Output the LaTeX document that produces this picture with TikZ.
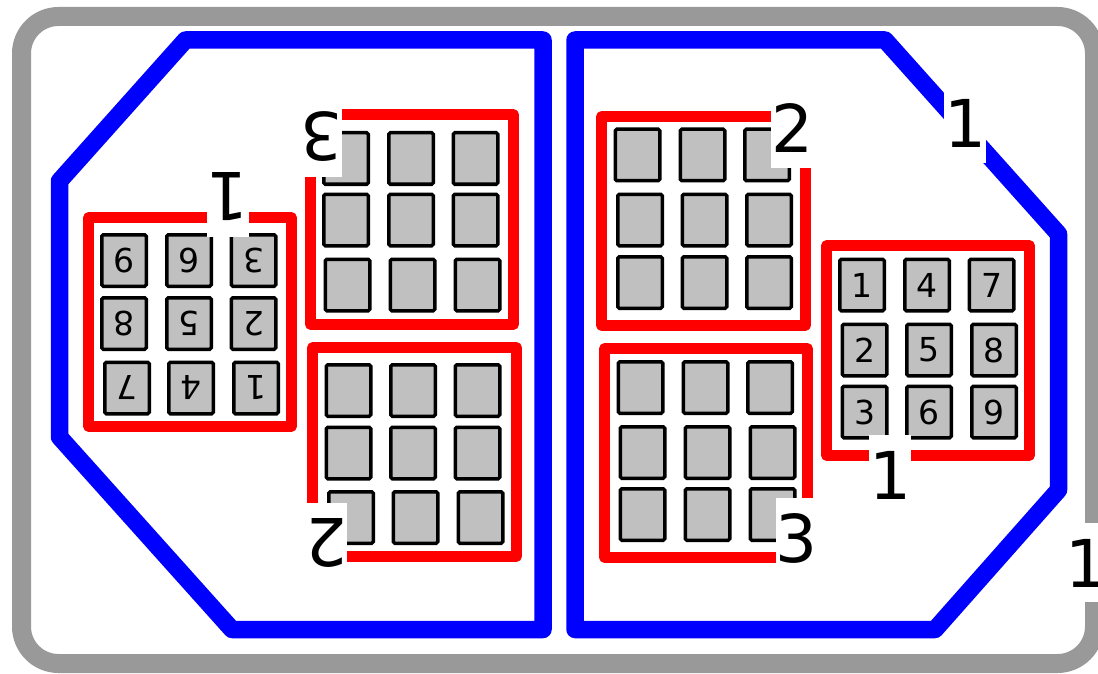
\documentclass[tikz,border=0pt]{standalone}
\usepackage{fontspec}
\setmainfont{DejaVu Sans}
\definecolor{bordergray}{HTML}{999999}
\definecolor{pingray}{HTML}{C0C0C0}
\definecolor{zoneblue}{HTML}{0000FF}
\definecolor{framered}{HTML}{FF0000}
\begin{document}
\begin{tikzpicture}[x=1pt,y=-1pt,
  outline/.style={draw=bordergray,line width=19pt,rounded corners=37pt},
  zone/.style={draw=zoneblue,line width=17.5pt,line join=round},
  frame/.style={draw=framered,line width=10.5pt,line join=round},
  pin/.style={draw=black,fill=pingray,line width=3.5pt,rounded corners=1.5pt,
    minimum width=44.5pt,minimum height=51.5pt,inner sep=0pt,
    font=\fontsize{33}{33}\selectfont},
  tag/.style={fill=white,inner sep=0pt,text height=64pt,text depth=15pt,
    anchor=base,font=\fontsize{66}{66}\selectfont}]
\useasboundingbox (0,0) rectangle (1098,674);
\fill[white] (0,0) rectangle (1098,674);
% outer border
\draw[outline] (21.5,16.5) rectangle (1094.5,663.5);
% blue zones
\draw[zone] (185.5,40) -- (543,40) -- (543,629.5) -- (232,629.5) -- (59.5,437) -- (59.5,181) -- cycle;
\draw[zone] (575,40) -- (885,40) -- (1058.5,234) -- (1058.5,490) -- (935,629.5) -- (575,629.5) -- cycle;
% red frames
\draw[frame] (88.5,217.5) rectangle (291.5,426.5);
\draw[frame] (310.5,114.5) rectangle (513.5,324.5);
\draw[frame] (312.5,347.5) rectangle (516.5,556.5);
\draw[frame] (601.5,116.5) rectangle (805.5,325.5);
\draw[frame] (604.5,348.5) rectangle (807.5,557.5);
\draw[frame] (826.5,245.5) rectangle (1029.5,455.5);
% left small connector (rotated)
\foreach \px/\py/\t/\n in {124/260.5/9/ls9, 189/260.5/6/ls6, 253.5/260.5/3/ls3,
  124/323.5/8/ls8, 189/323.5/5/ls5, 253.5/323.5/2/ls2,
  127/388/7/ls7, 191/388/4/ls4, 256/388/1/ls1}
  \node[pin,rotate=180] (\n) at (\px,\py) {\t};
% right small connector
\foreach \px/\py/\t/\n in {862/285/1/rs1, 927/285/4/rs4, 991.5/285/7/rs7,
  864.5/350/2/rs2, 929/350/5/rs5, 994/350/8/rs8,
  864.5/412/3/rs3, 929/412/6/rs6, 994/412/9/rs9}
  \node[pin] (\n) at (\px,\py) {\t};
% left top big
\foreach \px/\py/\n in {346/158.5/lta, 411/158.5/ltb, 475.5/158.5/ltc,
  346/220/ltd, 411/220/lte, 475.5/220/ltf,
  347.5/285/ltg, 412.5/285/lth, 477.5/285/lti}
  \node[pin] (\n) at (\px,\py) {};
% left bottom big
\foreach \px/\py/\n in {348.5/390.5/lba, 413/390.5/lbb, 477.5/390.5/lbc,
  348.5/453/lbd, 413/453/lbe, 477.5/453/lbf,
  351/517.5/lbg, 415.5/517.5/lbh, 480.5/517.5/lbi}
  \node[pin] (\n) at (\px,\py) {};
% right top big
\foreach \px/\py/\n in {637.5/155/rta, 702.5/155/rtb, 767/155/rtc,
  640/220/rtd, 704.5/220/rte, 769/220/rtf,
  640/282.5/rtg, 704.5/282.5/rth, 769/282.5/rti}
  \node[pin] (\n) at (\px,\py) {};
% right bottom big
\foreach \px/\py/\n in {640.5/387.5/rba, 705.5/387.5/rbb, 770/387.5/rbc,
  642.5/452.5/rbd, 707.5/452.5/rbe, 772.5/452.5/rbf,
  642.5/514.5/rbg, 707.5/514.5/rbh, 772.5/514.5/rbi}
  \node[pin] (\n) at (\px,\py) {};
% labels
\node[tag,rotate=180] (tagls) at (228,173) {1};
\node[tag] (tagrs) at (890,499) {1};
\node[tag] (tagrt) at (792,153) {2};
\node[tag] (tagrb) at (796.5,562) {3};
\node[tag,rotate=180] (taglt) at (321.5,113) {3};
\node[tag,rotate=180] (taglb) at (326.5,518) {2};
\node[tag] (tagzone) at (965,148) {1};
\node[tag] (tagouter) at (1086,587) {1};
\end{tikzpicture}
\end{document}
